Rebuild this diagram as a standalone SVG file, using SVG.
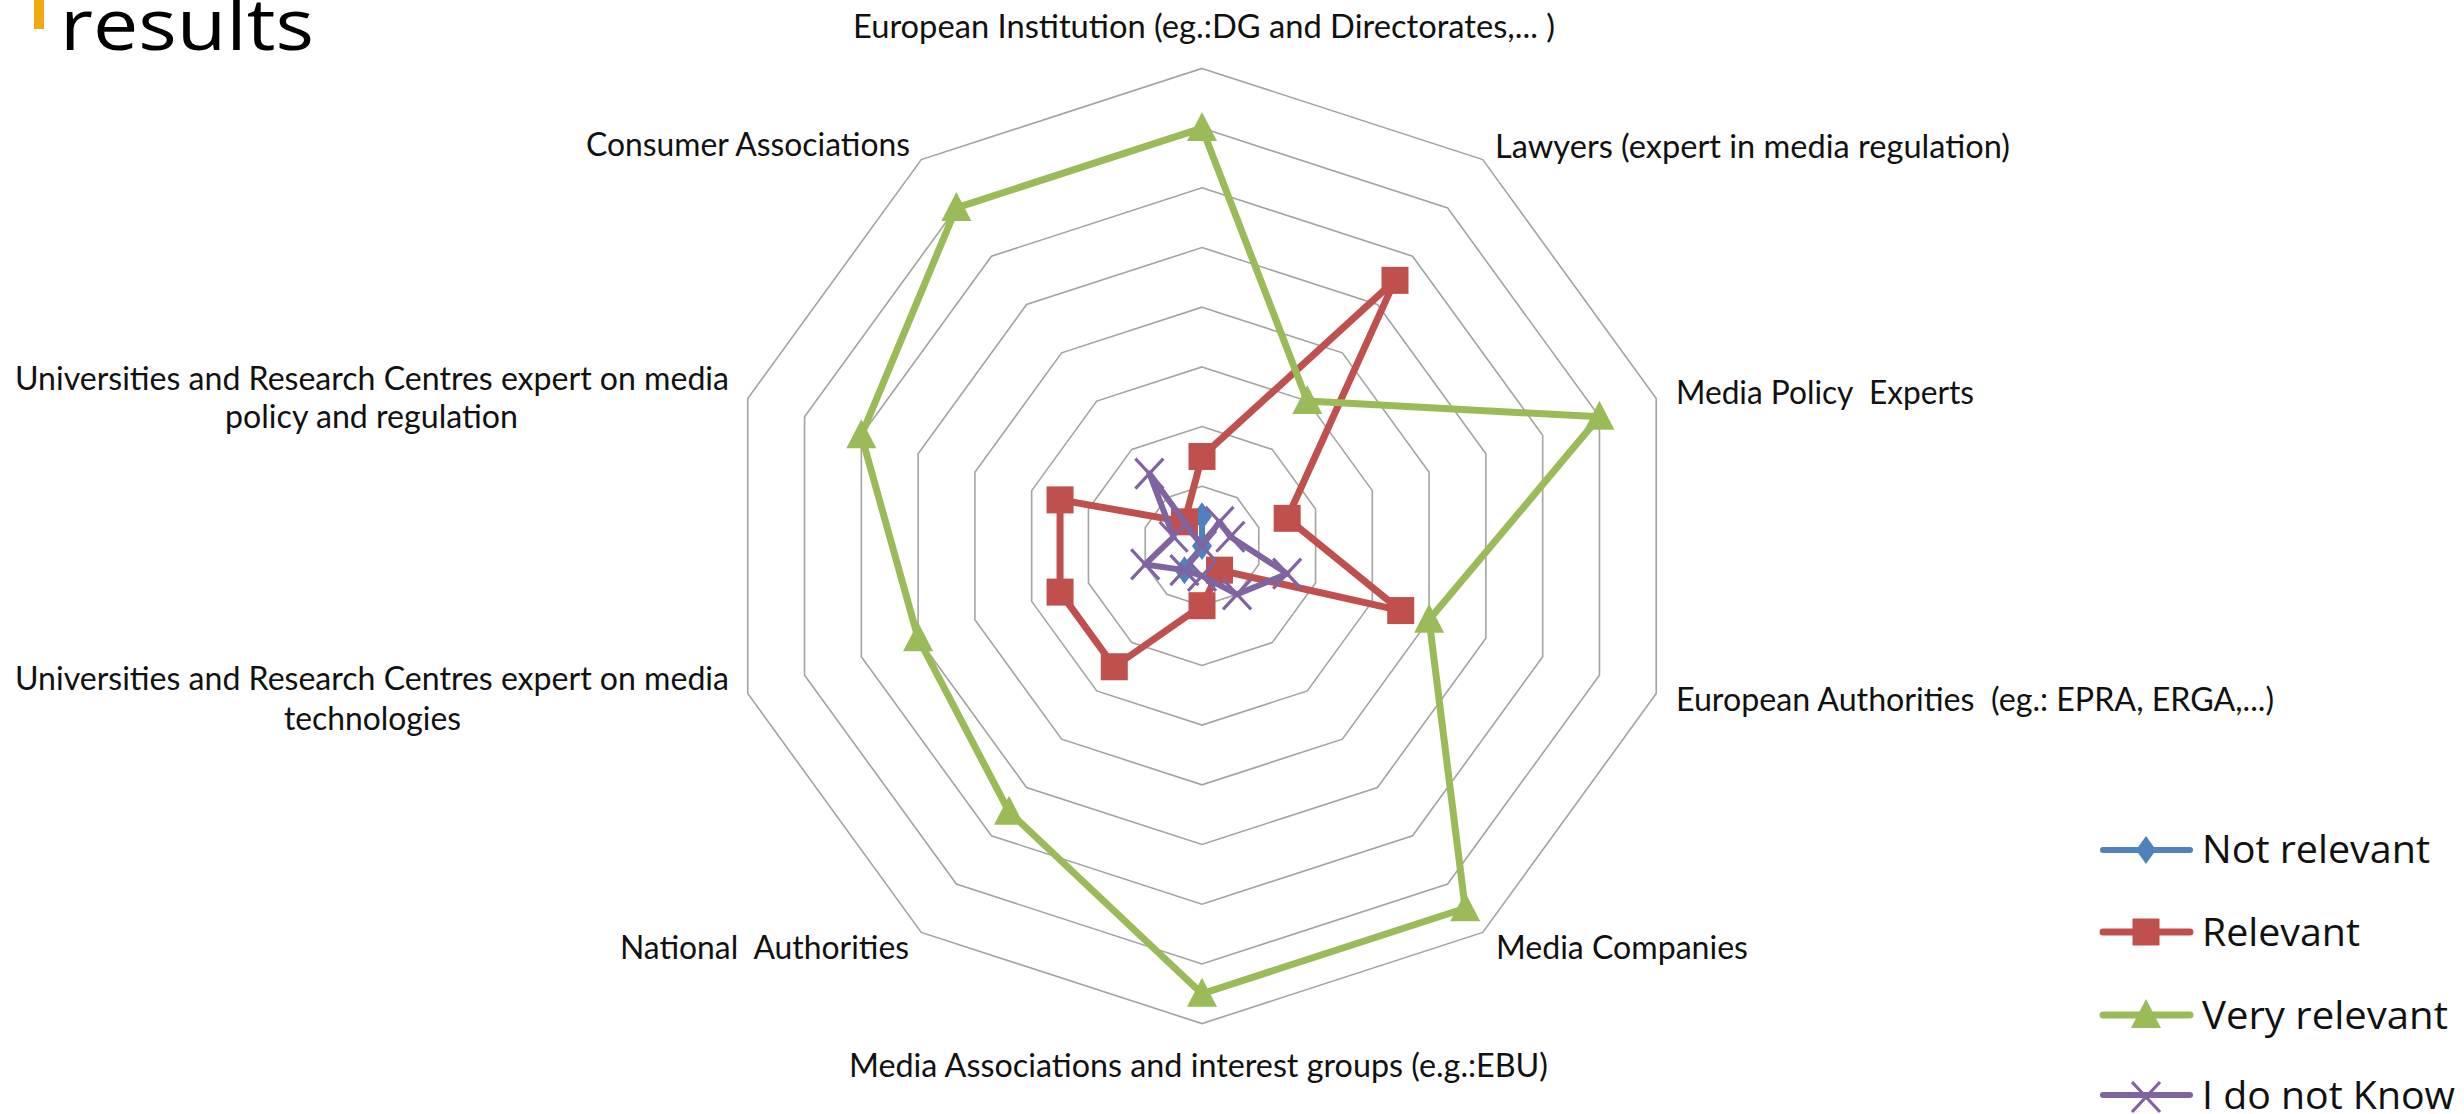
<svg xmlns="http://www.w3.org/2000/svg" xmlns:xlink="http://www.w3.org/1999/xlink" width="2464" height="1114" viewBox="0 0 2464 1114">
<style>
.ring{fill:none;stroke:#a3a3a3;stroke-width:1.6}
.ser{fill:none;stroke-linejoin:round;stroke-linecap:round}
.blue{stroke:#4F81BD;stroke-width:6}
.red{stroke:#C0504D;stroke-width:7}
.green{stroke:#9BBB59;stroke-width:7}
.purple{stroke:#8064A2;stroke-width:6}
.lbl{font-family:Lato,"Open Sans","Liberation Sans",sans-serif;font-size:33px;fill:#111;white-space:pre}
.leg{font-family:"Open Sans","Liberation Sans",sans-serif;font-size:39px;fill:#111}
</style>
<defs>
<path id="mDia" d="M0,-14 L10,0 L0,14 L-10,0 Z" fill="#4F81BD"/>
<rect id="mSq" x="-13.5" y="-13.5" width="27" height="27" fill="#C0504D"/>
<path id="mTri" d="M0,-16 L15,13 L-15,13 Z" fill="#9BBB59"/>
<path id="mX" d="M-14,-15 L14,15 M-14,15 L14,-15" stroke="#8064A2" stroke-width="3.2" fill="none"/>
</defs>
<rect width="2464" height="1114" fill="#fff"/>
<g id="title">
<rect x="34" y="0" width="10" height="29" fill="#F2A80F"/>
<text x="60" y="50" font-family="'Open Sans','Liberation Sans',sans-serif" font-size="72" fill="#000" textLength="254" lengthAdjust="spacingAndGlyphs">results</text>
</g>
<g id="grid">
<polygon class="ring" points="1202,486.3 1237.09,497.7 1258.78,527.55 1258.78,564.45 1237.09,594.3 1202,605.7 1166.91,594.3 1145.22,564.45 1145.22,527.55 1166.91,497.7"/>
<polygon class="ring" points="1202,426.6 1272.18,449.4 1315.56,509.1 1315.56,582.9 1272.18,642.6 1202,665.4 1131.82,642.6 1088.44,582.9 1088.44,509.1 1131.82,449.4"/>
<polygon class="ring" points="1202,366.9 1307.27,401.11 1372.33,490.65 1372.33,601.35 1307.27,690.89 1202,725.1 1096.73,690.89 1031.67,601.35 1031.67,490.65 1096.73,401.11"/>
<polygon class="ring" points="1202,307.2 1342.36,352.81 1429.11,472.21 1429.11,619.79 1342.36,739.19 1202,784.8 1061.64,739.19 974.89,619.79 974.89,472.21 1061.64,352.81"/>
<polygon class="ring" points="1202,247.5 1377.45,304.51 1485.89,453.76 1485.89,638.24 1377.45,787.49 1202,844.5 1026.55,787.49 918.11,638.24 918.11,453.76 1026.55,304.51"/>
<polygon class="ring" points="1202,187.8 1412.54,256.21 1542.67,435.31 1542.67,656.69 1412.54,835.79 1202,904.2 991.46,835.79 861.33,656.69 861.33,435.31 991.46,256.21"/>
<polygon class="ring" points="1202,128.1 1447.64,207.91 1599.45,416.86 1599.45,675.14 1447.64,884.09 1202,963.9 956.36,884.09 804.55,675.14 804.55,416.86 956.36,207.91"/>
<polygon class="ring" points="1202,68.4 1482.73,159.61 1656.23,398.41 1656.23,693.59 1482.73,932.39 1202,1023.6 921.27,932.39 747.77,693.59 747.77,398.41 921.27,159.61"/>
</g>
<g id="series">
<g id="s-not-relevant">
<polygon class="ser blue" points="1202,516.15 1202,546 1184.45,570.15 1202,546"/>
<use href="#mDia" x="1202" y="516.15"/>
<use href="#mDia" x="1202" y="546"/>
<use href="#mDia" x="1184.45" y="570.15"/>
</g>
<g id="s-relevant">
<polygon class="ser red" points="1202,456.45 1395,280.36 1287.17,518.33 1400.72,610.57 1219.55,570.15 1202,605.7 1114.27,666.75 1060.06,592.12 1060.06,499.88 1184.45,521.85"/>
<use href="#mSq" x="1202" y="456.45"/>
<use href="#mSq" x="1395" y="280.36"/>
<use href="#mSq" x="1287.17" y="518.33"/>
<use href="#mSq" x="1400.72" y="610.57"/>
<use href="#mSq" x="1219.55" y="570.15"/>
<use href="#mSq" x="1202" y="605.7"/>
<use href="#mSq" x="1114.27" y="666.75"/>
<use href="#mSq" x="1060.06" y="592.12"/>
<use href="#mSq" x="1060.06" y="499.88"/>
<use href="#mSq" x="1184.45" y="521.85"/>
</g>
<g id="s-very-relevant">
<polygon class="ser green" points="1202,128.1 1307.27,401.11 1599.45,416.86 1429.11,619.79 1465.18,908.24 1202,993.75 1009,811.64 918.11,638.24 861.33,435.31 956.36,207.91"/>
<use href="#mTri" x="1202" y="128.1"/>
<use href="#mTri" x="1307.27" y="401.11"/>
<use href="#mTri" x="1599.45" y="416.86"/>
<use href="#mTri" x="1429.11" y="619.79"/>
<use href="#mTri" x="1465.18" y="908.24"/>
<use href="#mTri" x="1202" y="993.75"/>
<use href="#mTri" x="1009" y="811.64"/>
<use href="#mTri" x="918.11" y="638.24"/>
<use href="#mTri" x="861.33" y="435.31"/>
<use href="#mTri" x="956.36" y="207.91"/>
</g>
<g id="s-dont-know">
<polygon class="ser purple" points="1202,546 1219.55,521.85 1230.39,536.78 1287.17,573.67 1237.09,594.3 1202,575.85 1184.45,570.15 1145.22,564.45 1173.61,536.78 1149.36,473.55"/>
<use href="#mX" x="1202" y="546"/>
<use href="#mX" x="1219.55" y="521.85"/>
<use href="#mX" x="1230.39" y="536.78"/>
<use href="#mX" x="1287.17" y="573.67"/>
<use href="#mX" x="1237.09" y="594.3"/>
<use href="#mX" x="1202" y="575.85"/>
<use href="#mX" x="1184.45" y="570.15"/>
<use href="#mX" x="1145.22" y="564.45"/>
<use href="#mX" x="1173.61" y="536.78"/>
<use href="#mX" x="1149.36" y="473.55"/>
</g>
</g>
<g id="labels">
<text class="lbl" x="853" y="38" textLength="702" lengthAdjust="spacingAndGlyphs">European Institution (eg.:DG and Directorates,... )</text>
<text class="lbl" x="1495" y="158" textLength="515" lengthAdjust="spacingAndGlyphs">Lawyers (expert in media regulation)</text>
<text class="lbl" x="1676" y="404" textLength="298" lengthAdjust="spacingAndGlyphs">Media Policy  Experts</text>
<text class="lbl" x="1676" y="711" textLength="598" lengthAdjust="spacingAndGlyphs">European Authorities  (eg.: EPRA, ERGA,...)</text>
<text class="lbl" x="1496" y="959" textLength="252" lengthAdjust="spacingAndGlyphs">Media Companies</text>
<text class="lbl" x="849" y="1077" textLength="699" lengthAdjust="spacingAndGlyphs">Media Associations and interest groups (e.g.:EBU)</text>
<text class="lbl" x="620" y="959" textLength="289" lengthAdjust="spacingAndGlyphs">National  Authorities</text>
<text class="lbl" x="15" y="390" textLength="714" lengthAdjust="spacingAndGlyphs">Universities and Research Centres expert on media</text>
<text class="lbl" x="225" y="428" textLength="293" lengthAdjust="spacingAndGlyphs">policy and regulation</text>
<text class="lbl" x="15" y="690" textLength="714" lengthAdjust="spacingAndGlyphs">Universities and Research Centres expert on media</text>
<text class="lbl" x="284" y="730" textLength="177" lengthAdjust="spacingAndGlyphs">technologies</text>
<text class="lbl" x="586" y="156" textLength="324" lengthAdjust="spacingAndGlyphs">Consumer Associations</text>
</g>
<g id="legend">
<g id="leg-not-relevant">
<line class="ser blue" x1="2103" y1="850" x2="2190" y2="850" stroke-width="7"/>
<use href="#mDia" x="2146" y="850"/>
<text class="leg" x="2202" y="863" textLength="228" lengthAdjust="spacingAndGlyphs">Not relevant</text>
</g>
<g id="leg-relevant">
<line class="ser red" x1="2103" y1="932" x2="2190" y2="932"/>
<use href="#mSq" x="2146" y="932"/>
<text class="leg" x="2202" y="946" textLength="158" lengthAdjust="spacingAndGlyphs">Relevant</text>
</g>
<g id="leg-very-relevant">
<line class="ser green" x1="2103" y1="1015" x2="2190" y2="1015"/>
<use href="#mTri" x="2146" y="1015"/>
<text class="leg" x="2202" y="1029" textLength="246" lengthAdjust="spacingAndGlyphs">Very relevant</text>
</g>
<g id="leg-dont-know">
<line class="ser purple" x1="2103" y1="1095" x2="2190" y2="1095" stroke-width="7"/>
<use href="#mX" x="2146" y="1097"/>
<text class="leg" x="2202" y="1109" textLength="253" lengthAdjust="spacingAndGlyphs">I do not Know</text>
</g>
</g>
</svg>
